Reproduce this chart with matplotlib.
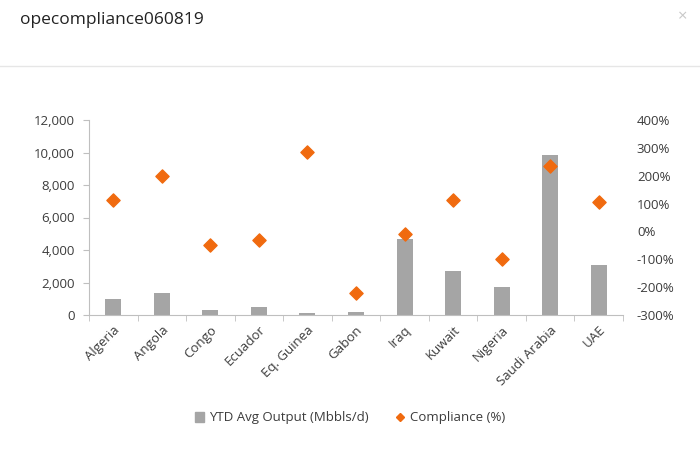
import numpy as np
import matplotlib.pyplot as plt
from matplotlib.lines import Line2D
from matplotlib.patches import Patch
from matplotlib.ticker import FuncFormatter

countries = ['Algeria', 'Angola', 'Congo', 'Ecuador', 'Eq. Guinea', 'Gabon',
             'Iraq', 'Kuwait', 'Nigeria', 'Saudi Arabia', 'UAE']
output_kbd = [1000, 1380, 310, 490, 100, 190, 4660, 2690, 1740, 9850, 3060]
compliance_pct = [113, 198, -48, -32, 284, -220, -9, 113, -100, 235, 107]

bar_color = '#a5a5a5'
orange = '#f06a0f'
text_color = '#3c3c3c'

plt.rcParams['font.family'] = ['Open Sans', 'DejaVu Sans']

fig = plt.figure(figsize=(7, 4.5), dpi=100)

# header of the popup
fig.text(20 / 700, 1 - 20 / 450, 'opecompliance060819', fontsize=12.5,
         color='#222222', va='center', ha='left')
fig.text(683 / 700, 1 - 17 / 450, '×', fontsize=12, color='#c8c8c8',
         va='center', ha='center')
fig.add_artist(Line2D([0, 1], [1 - 66 / 450] * 2, color='#e6e6e6', lw=1))

ax = fig.add_axes([89 / 700, 1 - 315 / 450, 534 / 700, 195 / 450])
x = np.arange(len(countries))
ax.bar(x, output_kbd, width=0.33, color=bar_color, zorder=2)
ax.set_xlim(-0.5, len(countries) - 0.5)
ax.set_ylim(0, 12000)
ax.set_yticks(np.arange(0, 12001, 2000))
ax.yaxis.set_major_formatter(FuncFormatter(lambda v, p: f'{int(v):,}'))
ax.set_xticks(x)
ax.set_xticklabels(countries, rotation=45, ha='right', rotation_mode='anchor')
ax.set_xticks(np.arange(-0.5, len(countries)), minor=True)
ax.tick_params(axis='x', which='major', length=0, pad=6, labelsize=9.5,
               labelcolor=text_color)
ax.tick_params(axis='x', which='minor', length=4, color='#bfbfbf')
ax.tick_params(axis='y', length=4, color='#bfbfbf', labelsize=9.5,
               labelcolor=text_color, pad=6)
for s in ['top', 'right']:
    ax.spines[s].set_visible(False)
ax.spines['left'].set_color('#bfbfbf')
ax.spines['bottom'].set_color('#bfbfbf')

ax2 = ax.twinx()
ax2.scatter(x, compliance_pct, marker='D', s=45, color=orange, zorder=3)
ax2.set_ylim(-300, 400)
ax2.set_yticks(np.arange(-300, 401, 100))
ax2.yaxis.set_major_formatter(FuncFormatter(lambda v, p: f'{int(v)}%'))
ax2.tick_params(axis='y', length=0, labelsize=9.5, labelcolor=text_color, pad=10)
for s in ['top', 'right', 'left', 'bottom']:
    ax2.spines[s].set_visible(False)

handles = [Patch(color=bar_color),
           Line2D([], [], marker='D', ls='', color=orange, markersize=4.5)]
fig.legend(handles, ['YTD Avg Output (Mbbls/d)', 'Compliance (%)'],
           loc='center', bbox_to_anchor=(0.5, 1 - 418 / 450), ncol=2,
           frameon=False, fontsize=9.5, handlelength=0.7, handletextpad=0.4,
           columnspacing=2.0, labelcolor=text_color)

fig.savefig('out.png', dpi=100)
